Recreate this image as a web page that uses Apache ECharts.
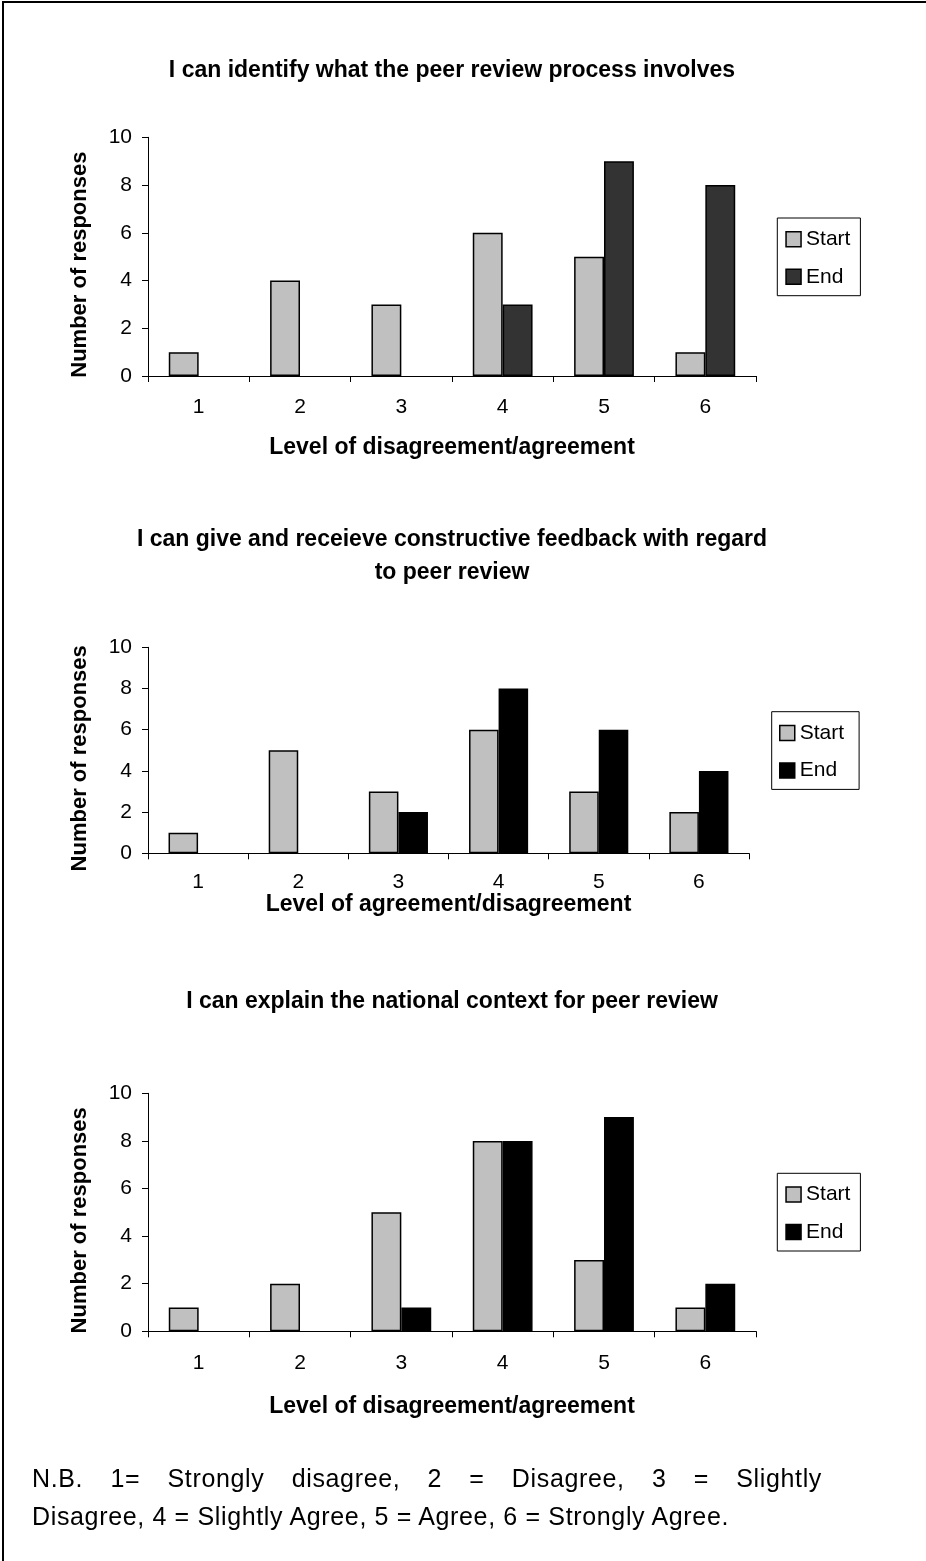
<!DOCTYPE html>
<html>
<head>
<meta charset="utf-8">
<script src="https://cdn.jsdelivr.net/npm/echarts@6/dist/echarts.min.js"></script>
<style>
html,body{margin:0;padding:0;width:926px;height:1561px;overflow:hidden;background:#fff;}
#frame{position:absolute;left:2px;top:1px;width:1000px;height:1700px;border:2px solid #000;box-sizing:border-box;}
#chart{position:absolute;left:0;top:0;width:926px;height:1561px;}
#note{position:absolute;left:32px;top:1459px;width:790px;font-family:'Liberation Sans',Arial,sans-serif;font-size:25px;line-height:38px;letter-spacing:0.65px;color:#000;}
#note .l1{text-align:justify;text-align-last:justify;}
</style>
</head>
<body>
<div id="frame"></div>
<div id="chart"></div>
<div id="note"><div class="l1">N.B. 1= Strongly disagree, 2 = Disagree, 3 = Slightly</div><div>Disagree, 4 = Slightly Agree, 5 = Agree, 6 = Strongly Agree.</div></div>
<script>
// ---- data ----
const categories = ['1', '2', '3', '4', '5', '6'];
const seriesNames = ['Start', 'End'];
const titles = [
  'I can identify what the peer review process involves',
  'I can give and receieve constructive feedback with regard\nto peer review',
  'I can explain the national context for peer review'
];
const xAxisNames = [
  'Level of disagreement/agreement',
  'Level of agreement/disagreement',
  'Level of disagreement/agreement'
];
const yAxisName = 'Number of responses';
const yMin = 0, yMax = 10, yInterval = 2;

const start1 = [1, 4, 3, 6, 5, 1];
const end1   = [0, 0, 0, 3, 9, 8];
const start2 = [1, 5, 3, 6, 3, 2];
const end2   = [0, 0, 2, 8, 6, 4];
const start3 = [1, 2, 5, 8, 3, 1];
const end3   = [0, 0, 1, 8, 9, 2];

const startData = [start1, start2, start3];
const endData = [end1, end2, end3];

// ---- styles / layout ----
const FONT = "'Liberation Sans', Arial, sans-serif";
const startColor = '#c0c0c0';
const endColors = ['#333333', '#000000', '#000000'];
const grids = [
  { left: 148, top: 137.3, width: 608, height: 238.7 },
  { left: 148, top: 647.3, width: 601, height: 206 },
  { left: 148, top: 1093.3, width: 608, height: 238 }
];
const titleTops = [54.5, 523.5, 985.5];
const xNameGaps = [60.5, 35, 63.5];
const xLabelMargins = [21, 18, 21];
const legendPos = [
  { left: 777.3, top: 218, padding: [10.7, 10, 8.4, 8] },
  { left: 771.7, top: 711.7, padding: [10.7, 15, 8.4, 7.3] },
  { left: 777.3, top: 1173.3, padding: [10.7, 10, 8.4, 8] }
];

// zero counts draw no bar
const asBars = arr => arr.map(v => (v === 0 ? null : v));

const option = {
  animation: false,
  backgroundColor: 'transparent',
  textStyle: { fontFamily: FONT, color: '#000' },
  title: titles.map((t, i) => ({
    text: t,
    left: 452,
    top: titleTops[i],
    textAlign: 'center',
    padding: 0,
    textStyle: { fontFamily: FONT, fontSize: 23, fontWeight: 'bold', color: '#000', lineHeight: 33 }
  })),
  grid: grids.map(g => Object.assign({ containLabel: false, outerBoundsMode: 'none' }, g)),
  legend: legendPos.map((p, i) => ({
    orient: 'vertical',
    left: p.left,
    top: p.top,
    padding: p.padding,
    itemWidth: 15,
    itemHeight: 15,
    itemGap: 16.6,
    icon: 'rect',
    selectedMode: false,
    borderColor: '#000',
    borderWidth: 1,
    backgroundColor: '#fff',
    textStyle: { fontFamily: FONT, fontSize: 21, color: '#000' },
    data: [
      { name: seriesNames[0], itemStyle: { color: startColor, borderColor: '#000', borderWidth: 1.5 } },
      { name: seriesNames[1], itemStyle: { color: endColors[i], borderColor: '#000', borderWidth: 1.5 } }
    ]
  })),
  xAxis: grids.map((g, i) => ({
    type: 'category',
    gridIndex: i,
    data: categories,
    boundaryGap: true,
    name: xAxisNames[i],
    nameLocation: 'middle',
    nameGap: xNameGaps[i],
    nameTextStyle: { fontFamily: FONT, fontSize: 23, fontWeight: 'bold', color: '#000' },
    axisLine: { show: true, lineStyle: { color: '#000', width: 1 } },
    axisTick: { show: true, length: 6, alignWithLabel: false, lineStyle: { color: '#000', width: 1 } },
    axisLabel: { show: true, fontFamily: FONT, fontSize: 21, color: '#000', margin: xLabelMargins[i] },
    splitLine: { show: false }
  })),
  yAxis: grids.map((g, i) => ({
    type: 'value',
    gridIndex: i,
    min: yMin,
    max: yMax,
    interval: yInterval,
    name: yAxisName,
    nameLocation: 'middle',
    nameRotate: 90,
    nameGap: 57,
    nameTextStyle: { fontFamily: FONT, fontSize: 22, fontWeight: 'bold', color: '#000', padding: [0, 16, 0, 0] },
    axisLine: { show: true, lineStyle: { color: '#000', width: 1 } },
    axisTick: { show: true, length: 6, lineStyle: { color: '#000', width: 1 } },
    axisLabel: { show: true, fontFamily: FONT, fontSize: 21, color: '#000', margin: 16 },
    splitLine: { show: false }
  })),
  series: []
};

for (let i = 0; i < 3; i++) {
  option.series.push({
    type: 'bar', name: seriesNames[0], xAxisIndex: i, yAxisIndex: i,
    data: asBars(startData[i]), barGap: '0%', barCategoryGap: '41%',
    itemStyle: { color: startColor, borderColor: '#000', borderWidth: 1.5, borderRadius: 0 }
  });
  option.series.push({
    type: 'bar', name: seriesNames[1], xAxisIndex: i, yAxisIndex: i,
    data: asBars(endData[i]), barGap: '0%', barCategoryGap: '41%',
    itemStyle: { color: endColors[i], borderColor: '#000', borderWidth: 1.5, borderRadius: 0 }
  });
}

const chart = echarts.init(document.getElementById('chart'), null, { renderer: 'canvas' });
chart.setOption(option);
</script>
</body>
</html>
